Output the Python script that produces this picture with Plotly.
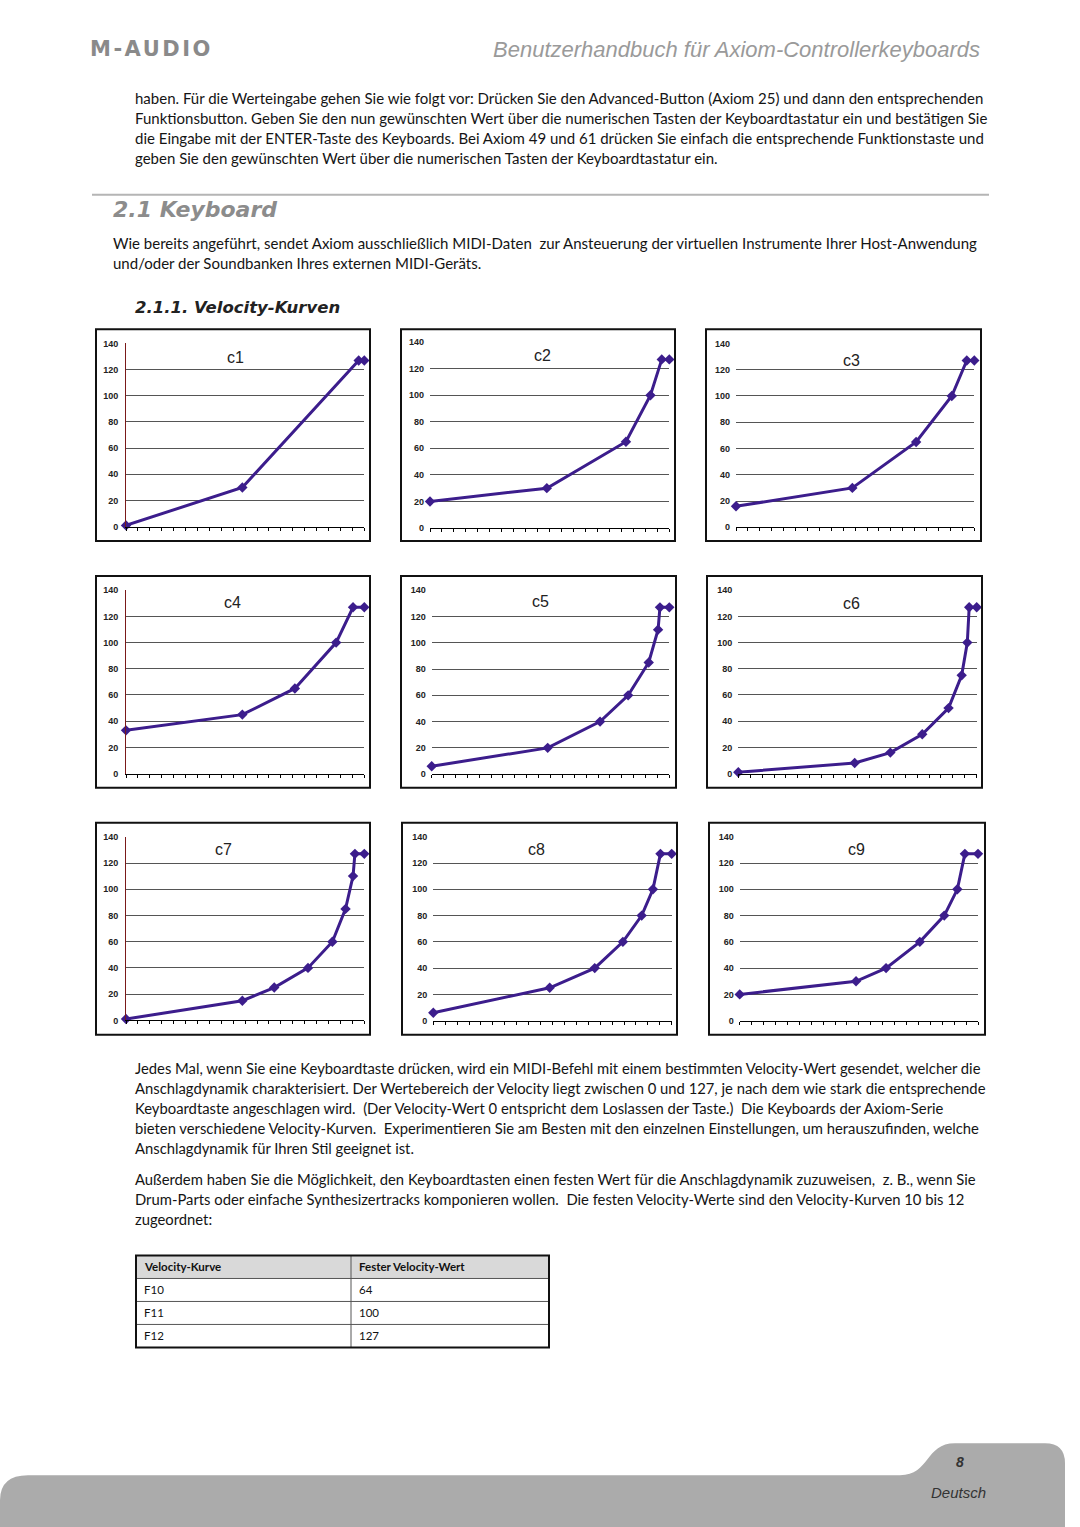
import plotly.graph_objects as go

W, H = 1080, 1527

# ---------------- data ----------------
curve_names = ["c1", "c2", "c3", "c4", "c5", "c6", "c7", "c8", "c9"]
c1_in = [0, 62, 124, 127]
c1_out = [1, 30, 127, 127]
c2_in = [0, 62, 104, 117, 123, 127]
c2_out = [20, 30, 65, 100, 127, 127]
c3_in = [0, 62, 96, 115, 123, 127]
c3_out = [16, 30, 65, 100, 127, 127]
c4_in = [0, 62, 90, 112, 121, 127]
c4_out = [33, 45, 65, 100, 127, 127]
c5_in = [0, 62, 90, 105, 116, 121, 122, 127]
c5_out = [6, 20, 40, 60, 85, 110, 127, 127]
c6_in = [0, 62, 81, 98, 112, 119, 122, 123, 127]
c6_out = [1, 8, 16, 30, 50, 75, 100, 127, 127]
c7_in = [0, 62, 79, 97, 110, 117, 121, 122, 127]
c7_out = [1, 15, 25, 40, 60, 85, 110, 127, 127]
c8_in = [0, 62, 86, 101, 111, 117, 121, 127]
c8_out = [6, 25, 40, 60, 80, 100, 127, 127]
c9_in = [0, 62, 78, 96, 109, 116, 120, 127]
c9_out = [20, 30, 40, 60, 80, 100, 127, 127]
y_ticks = [0, 20, 40, 60, 80, 100, 120, 140]

table_header = ["Velocity-Kurve", "Fester Velocity-Wert"]
table_curves = ["F10", "F11", "F12"]
table_values = ["64", "100", "127"]

header_left = "M-AUDIO"
header_right = "Benutzerhandbuch für Axiom-Controllerkeyboards"
para1 = [
    "haben. Für die Werteingabe gehen Sie wie folgt vor: Drücken Sie den Advanced-Button (Axiom 25) und dann den entsprechenden",
    "Funktionsbutton. Geben Sie den nun gewünschten Wert über die numerischen Tasten der Keyboardtastatur ein und bestätigen Sie",
    "die Eingabe mit der ENTER-Taste des Keyboards. Bei Axiom 49 und 61 drücken Sie einfach die entsprechende Funktionstaste und",
    "geben Sie den gewünschten Wert über die numerischen Tasten der Keyboardtastatur ein.",
]
section_title = "2.1 Keyboard"
para2 = [
    "Wie bereits angeführt, sendet Axiom ausschließlich MIDI-Daten  zur Ansteuerung der virtuellen Instrumente Ihrer Host-Anwendung",
    "und/oder der Soundbanken Ihres externen MIDI-Geräts.",
]
subsection_title = "2.1.1. Velocity-Kurven"
para3 = [
    "Jedes Mal, wenn Sie eine Keyboardtaste drücken, wird ein MIDI-Befehl mit einem bestimmten Velocity-Wert gesendet, welcher die",
    "Anschlagdynamik charakterisiert. Der Wertebereich der Velocity liegt zwischen 0 und 127, je nach dem wie stark die entsprechende",
    "Keyboardtaste angeschlagen wird.  (Der Velocity-Wert 0 entspricht dem Loslassen der Taste.)  Die Keyboards der Axiom-Serie",
    "bieten verschiedene Velocity-Kurven.  Experimentieren Sie am Besten mit den einzelnen Einstellungen, um herauszufinden, welche",
    "Anschlagdynamik für Ihren Stil geeignet ist.",
]
para4 = [
    "Außerdem haben Sie die Möglichkeit, den Keyboardtasten einen festen Wert für die Anschlagdynamik zuzuweisen,  z. B., wenn Sie",
    "Drum-Parts oder einfache Synthesizertracks komponieren wollen.  Die festen Velocity-Werte sind den Velocity-Kurven 10 bis 12",
    "zugeordnet:",
]
page_number = "8"
language = "Deutsch"

curves_in = [c1_in, c2_in, c3_in, c4_in, c5_in, c6_in, c7_in, c8_in, c9_in]
curves_out = [c1_out, c2_out, c3_out, c4_out, c5_out, c6_out, c7_out, c8_out, c9_out]

# ---------------- layout geometry (pixels) ----------------
plot_boxes = [  # x0, x1, ytop, ybottom of plot area
    (126, 364.3, 342.3, 525.7),
    (430, 669.3, 341, 527),
    (736, 974.3, 342.3, 526.3),
    (126, 364.3, 589.3, 772.7),
    (431.7, 669.3, 589.3, 773.3),
    (738.3, 976.7, 589.3, 772.7),
    (126, 364.3, 836, 1019.7),
    (433.3, 671.7, 836, 1020),
    (739.7, 978, 836, 1020),
]
frame_boxes = [
    (96, 328, 370, 540), (401, 328, 675, 540), (706, 328, 981, 540),
    (96, 575, 370, 787), (401, 575, 676, 787), (707, 575, 982, 787),
    (96, 822, 370, 1034), (402, 822, 677, 1034), (709, 822, 985, 1034),
]
title_pos = [(235, 356), (542, 354), (851, 359), (232, 602), (540, 601),
             (851, 603), (223, 849), (536, 849), (856, 849)]

# small vertical correction observed between page pixels and the photographed picture
Y_SCALE, Y_SHIFT = 0.99415, 3.63


def px(x):
    return x / W


def py(y):
    return 1 - ((y - Y_SHIFT) / Y_SCALE) / H


LINE_COLOR = "#3c1d8c"
TEXT_FONT = "Lato"
BODY = 15

fig = go.Figure()
layout = dict(
    width=W, height=H, margin=dict(l=0, r=0, t=0, b=0),
    paper_bgcolor="white", plot_bgcolor="white", showlegend=False,
)
annotations = []
shapes = []

for i in range(9):
    n = i + 1
    xa = "x" if n == 1 else f"x{n}"
    ya = "y" if n == 1 else f"y{n}"
    fig.add_trace(go.Scatter(
        x=curves_in[i], y=curves_out[i], xaxis=xa, yaxis=ya,
        mode="lines+markers", cliponaxis=False,
        line=dict(color=LINE_COLOR, width=3),
        marker=dict(symbol="diamond", size=8, color=LINE_COLOR),
        name=curve_names[i],
    ))
    x0, x1, yt, yb = plot_boxes[i]
    left_col = (i % 3 == 0)
    layout["xaxis" if n == 1 else f"xaxis{n}"] = dict(
        domain=[px(x0), px(x1)], anchor=ya, range=[0, 127],
        showgrid=False, zeroline=False, showticklabels=False,
        ticks="outside", ticklen=3, tickcolor="#000", tickwidth=1,
        tick0=0, dtick=6.35, showline=True, linecolor="#000", linewidth=1,
        fixedrange=True,
    )
    layout["yaxis" if n == 1 else f"yaxis{n}"] = dict(
        domain=[py(yb), py(yt)], anchor=xa, range=[0, 140],
        tickvals=y_ticks, showgrid=True, gridcolor="#555", gridwidth=1,
        zeroline=False, ticks="", ticklabelstandoff=5,
        showline=left_col, linecolor="#7a1a1a", linewidth=1,
        tickfont=dict(family="Liberation Sans", size=9, color="#222", weight="bold"),
        fixedrange=True,
    )
    bx0, by0, bx1, by1 = frame_boxes[i]
    shapes.append(dict(type="rect", xref="paper", yref="paper",
                       x0=px(bx0), x1=px(bx1), y0=py(by1), y1=py(by0),
                       line=dict(color="#111", width=2), fillcolor="rgba(0,0,0,0)"))
    tx, ty = title_pos[i]
    annotations.append(dict(text=curve_names[i], x=px(tx), y=py(ty), xref="paper", yref="paper",
                            showarrow=False, xanchor="center", yanchor="middle",
                            font=dict(family="Liberation Sans", size=16, color="#222")))


def add_text(text, x, y, size=BODY, color="#141414", family=TEXT_FONT, anchor="left", **kw):
    annotations.append(dict(text=text, x=px(x), y=py(y), xref="paper", yref="paper",
                            showarrow=False, xanchor=anchor, yanchor="middle",
                            font=dict(family=family, size=size, color=color, **kw)))


# header
add_text('<b><span style="letter-spacing:2.5px">' + header_left + "</span></b>", 88, 48,
         size=21, color="#8a8a8a", family="DejaVu Sans")
add_text("<i>" + header_right + "</i>", 982, 48, size=22, color="#9a9a9a",
         family="Liberation Sans", anchor="right")

for k, line in enumerate(para1):
    add_text(line, 133, 97 + 20 * k)

shapes.append(dict(type="line", xref="paper", yref="paper", x0=px(92), x1=px(989),
                   y0=py(193.5), y1=py(193.5), line=dict(color="#b5b5b5", width=2)))
add_text("<b><i>" + section_title + "</i></b>", 111, 208, size=22, color="#8c8c8c",
         family="DejaVu Sans")
for k, line in enumerate(para2):
    add_text(line, 111, 242 + 20 * k)
add_text("<b><i>" + subsection_title + "</i></b>", 133, 306, size=16.5, color="#222",
         family="DejaVu Sans")

for k, line in enumerate(para3):
    add_text(line, 133, 1067 + 20 * k, size=14.8)
for k, line in enumerate(para4):
    add_text(line, 133, 1178 + 20 * k, size=14.8)

# table (cells built from the table lists)
tx0, tx1, tcol = 136, 549, 351
row_y = [1255, 1278, 1301, 1324, 1347]
shapes.append(dict(type="rect", xref="paper", yref="paper", x0=px(tx0), x1=px(tx1),
                   y0=py(row_y[1]), y1=py(row_y[0]), fillcolor="#d9d9d9",
                   line=dict(width=0), layer="below"))
for yy in row_y[1:-1]:
    shapes.append(dict(type="line", xref="paper", yref="paper", x0=px(tx0), x1=px(tx1),
                       y0=py(yy), y1=py(yy), line=dict(color="#555", width=1)))
shapes.append(dict(type="line", xref="paper", yref="paper", x0=px(tcol), x1=px(tcol),
                   y0=py(row_y[0]), y1=py(row_y[-1]), line=dict(color="#555", width=1)))
shapes.append(dict(type="rect", xref="paper", yref="paper", x0=px(tx0), x1=px(tx1),
                   y0=py(row_y[-1]), y1=py(row_y[0]), line=dict(color="#111", width=2),
                   fillcolor="rgba(0,0,0,0)"))
rows = [table_header] + [[c, v] for c, v in zip(table_curves, table_values)]
for r, (a, b) in enumerate(rows):
    ymid = (row_y[r] + row_y[r + 1]) / 2
    if r == 0:
        a, b = "<b>" + a + "</b>", "<b>" + b + "</b>"
    add_text(a, tx0 + 6, ymid, size=11.5, color="#111")
    add_text(b, tcol + 6, ymid, size=11.5, color="#111")

# footer band
def P(x, y):
    return f"{px(x):.5f},{py(y):.5f}"

path = ("M " + P(0, 1535) + " L " + P(0, 1500) +
        " Q " + P(0, 1475) + " " + P(28, 1475) +
        " L " + P(900, 1475) +
        " C " + P(930, 1475) + " " + P(925, 1443) + " " + P(955, 1443) +
        " L " + P(1045, 1443) +
        " Q " + P(1065, 1443) + " " + P(1065, 1463) +
        " L " + P(1065, 1535) + " Z")
shapes.append(dict(type="path", xref="paper", yref="paper", path=path,
                   fillcolor="#ababab", line=dict(width=0), layer="below"))
add_text("<b><i>" + page_number + "</i></b>", 960, 1462, size=14, color="#333",
         family="Liberation Sans", anchor="center")
add_text("<i>" + language + "</i>", 958, 1492, size=15, color="#333",
         family="Liberation Sans", anchor="center")

layout["annotations"] = annotations
layout["shapes"] = shapes
fig.update_layout(**layout)

post = (
    "document.documentElement.style.margin='0';"
    "document.documentElement.style.overflow='hidden';"
    "document.body.style.margin='0';"
    "document.body.style.overflow='hidden';"
    "var gd=document.getElementById('{plot_id}');"
    "gd.style.position='fixed';gd.style.left='0px';gd.style.top='0px';"
)
fig.write_html("out.html", config={"displayModeBar": False}, post_script=post)
